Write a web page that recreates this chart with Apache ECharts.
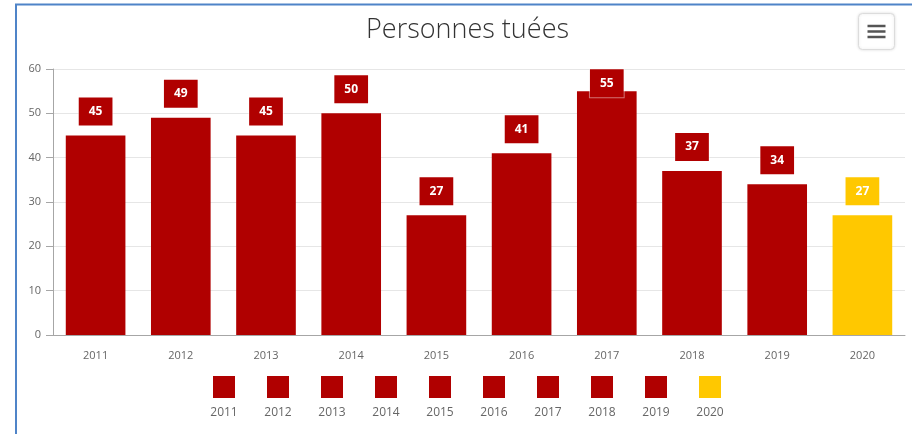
<!DOCTYPE html>
<html>
<head>
<meta charset="utf-8">
<title>Personnes tuées</title>
<script src="https://cdn.jsdelivr.net/npm/echarts@6/dist/echarts.min.js"></script>
<style>
  html, body { margin: 0; padding: 0; background: #fff; }
  #chart { width: 912px; height: 434px; }
</style>
</head>
<body>
<div id="chart"></div>
<script>
// données
const years = ['2011', '2012', '2013', '2014', '2015', '2016', '2017', '2018', '2019', '2020']
const killed = [45, 49, 45, 50, 27, 41, 55, 37, 34, 27]
const yTicks = [0, 10, 20, 30, 40, 50, 60]

const highlightYear = '2020'
const RED = '#b00000'
const YELLOW = '#ffc800'

function colorFor(year) {
  return year === highlightYear ? YELLOW : RED
}

const chart = echarts.init(document.getElementById('chart'))

// une série par année, pour avoir une entrée de légende par barre
const series = years.map((year, i) => {
  const data = years.map((_, j) => (j === i ? killed[i] : '-'))
  const color = colorFor(year)
  return {
    name: year,
    type: 'bar',
    stack: 'all',
    barWidth: '70%',
    data: data,
    itemStyle: { color: color },
    emphasis: { disabled: true },
    label: {
      show: true,
      position: 'top',
      // la barre 2017 touche le haut : l'étiquette est ramenée dans la zone
      distance: killed[i] > 52 ? -6 : 10,
      formatter: '{c}',
      color: '#fff',
      fontFamily: 'Open Sans',
      fontSize: 12,
      fontWeight: 'bold',
      lineHeight: 14,
      backgroundColor: color,
      borderColor: 'rgba(255,255,255,0.45)',
      borderWidth: 1,
      padding: [7, 10, 7, 10]
    }
  }
})

const option = {
  backgroundColor: '#fff',
  animation: false,
  title: {
    text: 'Personnes tuées',
    left: 366,
    top: 17,
    padding: 0,
    textStyle: {
      fontFamily: 'Open Sans',
      fontWeight: 300,
      fontSize: 27,
      color: '#333'
    }
  },
  legend: {
    data: years,
    left: 199,
    top: 376,
    padding: 0,
    icon: 'none',
    itemWidth: 0,
    itemHeight: 0,
    itemGap: 9,
    formatter: (name) => (name === highlightYear ? '{y|}' : '{r|}') + '\n{t|' + name + '}',
    textStyle: {
      rich: {
        r: { width: 22, height: 22, backgroundColor: RED, align: 'center' },
        y: { width: 22, height: 22, backgroundColor: YELLOW, align: 'center' },
        t: {
          width: 40,
          align: 'center',
          lineHeight: 30,
          fontFamily: 'Open Sans',
          fontSize: 12,
          color: '#666'
        }
      }
    }
  },
  grid: {
    left: 53,
    right: 7,
    top: 69,
    bottom: 99
  },
  xAxis: {
    type: 'category',
    data: years,
    axisLine: { lineStyle: { color: '#a6a6a6', width: 1 } },
    axisTick: { length: 7, lineStyle: { color: '#a6a6a6' } },
    axisLabel: {
      margin: 15,
      color: '#666',
      fontFamily: 'Open Sans',
      fontSize: 11
    }
  },
  yAxis: {
    type: 'value',
    min: yTicks[0],
    max: yTicks[yTicks.length - 1],
    interval: 10,
    axisLine: { show: true, lineStyle: { color: '#a6a6a6' } },
    axisTick: { show: true, length: 7, lineStyle: { color: '#a6a6a6' } },
    axisLabel: {
      margin: 12,
      color: '#666',
      fontFamily: 'Open Sans',
      fontSize: 11
    },
    splitLine: { lineStyle: { color: '#e6e6e6' } }
  },
  graphic: [
    // cadre bleu de la capture
    {
      type: 'polyline',
      shape: { points: [[16, 434], [16, 4.5], [912, 4.5]] },
      style: { stroke: '#4f84c8', lineWidth: 2, fill: null },
      silent: true
    },
    // bouton menu
    {
      type: 'group',
      left: 858,
      top: 13,
      children: [
        {
          type: 'rect',
          shape: { x: 0, y: 0, width: 36, height: 36, r: 4 },
          style: {
            fill: '#fff',
            stroke: '#dcdcdc',
            lineWidth: 1,
            shadowBlur: 3,
            shadowColor: 'rgba(0,0,0,0.12)'
          }
        },
        { type: 'line', shape: { x1: 9, y1: 12.5, x2: 27, y2: 12.5 }, style: { stroke: '#555', lineWidth: 2.5 } },
        { type: 'line', shape: { x1: 9, y1: 18, x2: 27, y2: 18 }, style: { stroke: '#555', lineWidth: 2.5 } },
        { type: 'line', shape: { x1: 9, y1: 23.5, x2: 27, y2: 23.5 }, style: { stroke: '#555', lineWidth: 2.5 } }
      ]
    }
  ],
  series: series
}

chart.setOption(option)
window.addEventListener('resize', () => chart.resize())
</script>
</body>
</html>
